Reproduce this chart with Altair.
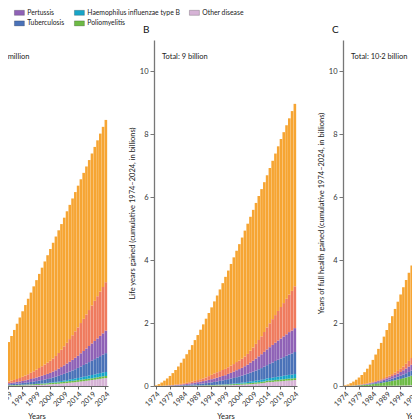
import altair as alt
import pandas as pd

FONT = "Lato"
years = list(range(1974, 2025))
tick_years = list(range(1974, 2025, 5))

stack_order = ["Other disease", "Poliomyelitis", "Haemophilus influenzae type B",
               "Tuberculosis", "Pertussis", "Tetanus", "Measles"]
legend_order = ["Measles", "Pertussis", "Haemophilus influenzae type B", "Other disease",
                "Tetanus", "Tuberculosis", "Poliomyelitis"]
legend_colors = ["#F6A533", "#8F62B6", "#17A5C8", "#D6B3D6",
                 "#EF7B5E", "#4A72B8", "#6DBA45"]

# ---------------- Panel A: deaths averted (millions) ----------------
A_total = [0.2, 0.5, 0.9, 1.4, 2.0, 2.8, 3.8, 5.0, 6.5, 8.3,
           10.4, 12.8, 15.6, 18.7, 22.0, 25.4, 28.9, 32.4, 36.0, 39.6,
           43.2, 46.8, 50.4, 54.0, 57.6, 61.2, 64.8, 68.4, 72.0, 75.6,
           79.2, 82.8, 86.4, 90.0, 93.6, 97.3, 101.0, 104.7, 108.4, 112.1,
           115.8, 119.5, 123.2, 126.9, 130.6, 134.4, 138.2, 142.0, 145.9, 149.8, 153.8]
A_tetanus = [0, .01, .02, .04, .06, .09, .13, .18, .24, .31,
             .39, .48, .58, .70, .84, 1.0, 1.2, 1.4, 1.7, 2.0,
             2.4, 2.8, 3.2, 3.6, 4.0, 4.5, 5.0, 5.5, 6.0, 6.5,
             7.0, 7.6, 8.3, 9.1, 10.0, 11.0, 12.0, 13.1, 14.2, 15.3,
             16.4, 17.5, 18.6, 19.7, 20.8, 22.0, 23.2, 24.4, 25.6, 26.8, 28.0]
A_pertussis = [0, .01, .02, .03, .05, .07, .09, .12, .16, .21,
               .27, .33, .40, .48, .56, .65, .75, .85, .96, 1.08,
               1.2, 1.35, 1.5, 1.7, 1.9, 2.1, 2.3, 2.5, 2.7, 2.9,
               3.1, 3.4, 3.7, 4.1, 4.5, 4.9, 5.3, 5.7, 6.1, 6.6,
               7.0, 7.6, 8.1, 8.7, 9.3, 9.9, 10.5, 11.1, 11.7, 12.3, 13.0]
A_tb = [0, .01, .02, .03, .05, .07, .09, .12, .16, .20,
        .25, .30, .36, .42, .49, .56, .64, .72, .81, .90,
        1.0, 1.1, 1.2, 1.35, 1.5, 1.65, 1.8, 1.95, 2.1, 2.3,
        2.5, 2.75, 3.0, 3.3, 3.6, 3.9, 4.25, 4.6, 5.0, 5.4,
        5.8, 6.3, 6.8, 7.3, 7.8, 8.3, 8.8, 9.3, 9.8, 10.3, 10.9]
A_hib = [0, 0, 0, 0, 0, 0, 0, 0, 0, 0,
         0, 0, 0, 0, 0, 0, 0, 0, 0, 0,
         0, .01, .02, .03, .05, .07, .10, .13, .17, .21,
         .26, .32, .39, .47, .56, .66, .77, .89, 1.0, 1.12,
         1.24, 1.36, 1.48, 1.6, 1.72, 1.84, 1.95, 2.05, 2.15, 2.23, 2.3]
A_polio = [0, .005, .01, .02, .03, .04, .05, .07, .09, .11,
           .13, .15, .18, .21, .24, .27, .30, .33, .36, .39,
           .42, .45, .48, .51, .54, .57, .60, .63, .66, .69,
           .72, .75, .78, .81, .84, .87, .90, .93, .96, .99,
           1.01, 1.03, 1.05, 1.07, 1.09, 1.11, 1.13, 1.15, 1.17, 1.19, 1.20]
A_other = [0, 0, .005, .01, .015, .02, .025, .03, .035, .04,
           .045, .05, .07, .09, .11, .14, .17, .20, .23, .26,
           .30, .35, .40, .45, .50, .56, .62, .70, .78, .88,
           1.0, 1.1, 1.2, 1.3, 1.45, 1.6, 1.75, 1.9, 2.05, 2.2,
           2.4, 2.6, 2.8, 3.0, 3.2, 3.4, 3.65, 3.9, 4.15, 4.4, 4.6]

# ---------------- Panel B: life years gained (billions) ----------------
B_total = [.02, .06, .11, .17, .24, .32, .41, .51, .62, .74,
           .87, 1.01, 1.15, 1.30, 1.46, 1.62, 1.79, 1.96, 2.14, 2.32,
           2.50, 2.69, 2.88, 3.07, 3.27, 3.47, 3.67, 3.88, 4.09, 4.30,
           4.51, 4.72, 4.94, 5.16, 5.38, 5.60, 5.82, 6.04, 6.26, 6.48,
           6.70, 6.93, 7.16, 7.39, 7.62, 7.85, 8.07, 8.29, 8.51, 8.74, 8.97]
B_tetanus = [0, .001, .002, .004, .006, .009, .012, .016, .020, .025,
             .030, .036, .043, .050, .058, .067, .077, .088, .10, .12,
             .14, .16, .17, .18, .19, .20, .21, .23, .24, .26,
             .27, .29, .31, .34, .38, .42, .47, .52, .57, .63,
             .70, .76, .82, .88, .94, 1.00, 1.06, 1.13, 1.19, 1.26, 1.33]
B_pertussis = [0, .001, .002, .003, .005, .007, .009, .012, .016, .020,
               .025, .031, .037, .044, .051, .058, .066, .074, .082, .091,
               .10, .11, .12, .13, .14, .15, .17, .18, .20, .22,
               .23, .25, .27, .29, .32, .35, .38, .41, .44, .47,
               .50, .53, .56, .58, .61, .63, .66, .68, .71, .73, .76]
B_tb = [0, .001, .002, .003, .004, .006, .008, .010, .013, .016,
        .020, .024, .029, .034, .040, .046, .053, .060, .068, .077,
        .087, .097, .108, .12, .13, .14, .155, .17, .18, .195,
        .21, .22, .24, .26, .28, .30, .32, .35, .37, .40,
        .42, .45, .48, .51, .54, .57, .59, .62, .65, .67, .70]
B_hib = [0, 0, 0, 0, 0, 0, 0, 0, 0, 0,
         0, 0, 0, 0, 0, 0, 0, 0, 0, 0,
         0, .001, .002, .003, .005, .007, .010, .013, .017, .021,
         .026, .031, .036, .041, .046, .051, .056, .061, .066, .070,
         .075, .080, .086, .092, .098, .104, .11, .115, .12, .125, .13]
B_polio = [0, .001, .001, .002, .002, .003, .003, .004, .005, .005,
           .006, .007, .008, .009, .010, .011, .012, .013, .015, .016,
           .018, .019, .021, .022, .024, .025, .027, .028, .030, .031,
           .033, .034, .036, .037, .039, .040, .042, .043, .045, .046,
           .048, .049, .050, .052, .053, .054, .056, .057, .058, .059, .060]
B_other = [0, 0, 0, 0, .001, .001, .001, .002, .002, .002,
           .003, .003, .004, .004, .005, .006, .007, .008, .009, .010,
           .011, .013, .015, .017, .019, .021, .024, .027, .030, .034,
           .038, .042, .047, .052, .058, .064, .071, .078, .088, .10,
           .12, .125, .13, .14, .145, .15, .16, .17, .175, .18, .19]

# ---------------- Panel C: years of full health gained (billions) ----------------
C_total = [.02, .05, .09, .14, .20, .27, .35, .44, .55, .68,
           .83, 1.00, 1.18, 1.37, 1.57, 1.78, 2.00, 2.22, 2.45, 2.68,
           2.91, 3.14, 3.37, 3.60, 3.83, 4.06, 4.29, 4.53, 4.77, 5.01,
           5.25, 5.49, 5.73, 5.97, 6.21, 6.46, 6.70, 6.95, 7.19, 7.44,
           7.68, 7.93, 8.17, 8.42, 8.67, 8.92, 9.17, 9.42, 9.67, 9.92, 10.17]
C_tetanus = [0, .001, .002, .003, .004, .006, .008, .01, .013, .016,
             .02, .024, .029, .034, .04, .047, .055, .064, .074, .086,
             .10, .12, .15, .18, .21, .25, .30, .34, .38, .42,
             .46, .50, .55, .60, .65, .70, .76, .82, .88, .94,
             1.0, 1.06, 1.12, 1.18, 1.24, 1.30, 1.36, 1.42, 1.48, 1.54, 1.60]
C_pertussis = [0, .001, .002, .004, .006, .008, .011, .014, .018, .022,
               .027, .032, .038, .045, .052, .06, .069, .079, .09, .10,
               .12, .135, .15, .17, .19, .22, .25, .27, .29, .31,
               .33, .35, .38, .41, .44, .47, .50, .53, .56, .59,
               .62, .65, .68, .71, .74, .77, .80, .83, .86, .89, .92]
C_tb = [0, .001, .002, .003, .005, .007, .009, .012, .015, .019,
        .023, .028, .033, .039, .046, .053, .061, .07, .08, .09,
        .10, .115, .13, .145, .16, .18, .20, .22, .24, .26,
        .28, .30, .33, .36, .39, .42, .45, .48, .51, .54,
        .57, .60, .63, .66, .69, .72, .75, .78, .81, .84, .87]
C_hib = [0, 0, 0, 0, 0, 0, 0, 0, 0, 0,
         0, 0, 0, 0, 0, 0, 0, 0, 0, 0,
         0, .001, .002, .004, .006, .008, .011, .015, .02, .025,
         .03, .036, .042, .048, .054, .06, .066, .072, .078, .084,
         .09, .096, .102, .108, .114, .12, .126, .132, .138, .144, .15]
C_polio = [0, .002, .005, .008, .012, .017, .023, .03, .038, .047,
           .057, .068, .08, .093, .107, .122, .138, .155, .173, .192,
           .212, .233, .255, .278, .30, .325, .35, .375, .40, .425,
           .45, .475, .50, .525, .55, .575, .60, .625, .65, .675,
           .70, .72, .74, .76, .78, .80, .82, .84, .86, .88, .90]
C_other = [0, 0, 0, 0, 0, 0, .001, .001, .002, .002,
           .003, .003, .004, .005, .006, .007, .008, .009, .010, .012,
           .014, .016, .018, .02, .023, .026, .03, .034, .038, .043,
           .048, .054, .06, .067, .074, .082, .09, .10, .11, .12,
           .13, .145, .16, .175, .19, .205, .22, .235, .25, .265, .28]


def build(total, other, polio, hib, tb, pert, tet):
    parts = [other, polio, hib, tb, pert, tet]
    rows = []
    for i, yr in enumerate(years):
        acc = 0.0
        for k, name in enumerate(stack_order[:-1]):
            v = parts[k][i]
            acc += v
            rows.append({"year": yr, "disease": name, "value": v, "order": k})
        rows.append({"year": yr, "disease": "Measles",
                     "value": round(total[i] - acc, 4), "order": 6})
    return pd.DataFrame(rows)


dfA = build(A_total, A_other, A_polio, A_hib, A_tb, A_pertussis, A_tetanus)
dfB = build(B_total, B_other, B_polio, B_hib, B_tb, B_pertussis, B_tetanus)
dfC = build(C_total, C_other, C_polio, C_hib, C_tb, C_pertussis, C_tetanus)

legend = alt.Legend(orient="none", legendX=4, legendY=-31, direction="horizontal",
                    columns=4, title=None, symbolType="M-2,-1H2V1H-2Z",
                    symbolSize=25, symbolStrokeWidth=0.6,
                    symbolStrokeColor="rgba(0,0,0,0.35)", symbolOpacity=1,
                    labelFontSize=6.8, labelFont=FONT, labelColor="#222",
                    columnPadding=8, rowPadding=2, labelOffset=4.5)


def panel(df, letter, ytitle, ydomain, yvalues, total_text):
    bars = alt.Chart(df).mark_bar().encode(
        x=alt.X("year:O", title="Years",
                scale=alt.Scale(paddingInner=0.06, paddingOuter=0.3),
                axis=alt.Axis(values=tick_years, labelAngle=-45, labelFontSize=7.5,
                              labelColor="#333", tickColor="#666", domainColor="#666",
                              tickSize=3, labelPadding=1, titleFontSize=7.5,
                              titleFontWeight="normal", titleColor="#222",
                              titlePadding=5, grid=False)),
        y=alt.Y("value:Q", stack="zero", title=ytitle,
                scale=alt.Scale(domain=ydomain, nice=False),
                axis=alt.Axis(values=yvalues, labelFontSize=7.5, labelColor="#333",
                              tickSize=4, tickColor="#777", domainColor="#777",
                              domainWidth=1.3, titleFontSize=7.5,
                              titleFontWeight="normal", titleColor="#222",
                              titlePadding=3, grid=False)),
        color=alt.Color("disease:N",
                        scale=alt.Scale(domain=legend_order, range=legend_colors),
                        legend=legend),
        order=alt.Order("order:Q", sort="ascending"),
    )
    txt = alt.Chart(pd.DataFrame({"t": [total_text]})).mark_text(
        align="left", baseline="middle", fontSize=7.5, font=FONT, color="#222"
    ).encode(text="t:N", x=alt.value(8), y=alt.value(17))
    return alt.layer(bars, txt).properties(
        width=143, height=346,
        title=alt.TitleParams(letter, anchor="start", frame="group", dx=-11,
                              offset=5, fontSize=10, fontWeight="normal",
                              font=FONT, color="#111"))


pA = panel(dfA, "A", "Deaths averted (cumulative 1974–2024, in millions)",
           [0, 200], [0, 50, 100, 150, 200], "Total: 154 million")
pB = panel(dfB, "B", "Life years gained (cumulative 1974–2024, in billions)",
           [0, 11], [0, 2, 4, 6, 8, 10], "Total: 9 billion")
pC = panel(dfC, "C", "Years of full health gained (cumulative 1974–2024, in billions)",
           [0, 11], [0, 2, 4, 6, 8, 10], "Total: 10·2 billion")

chart = alt.hconcat(pA, pB, pC, spacing=46, bounds="flush").properties(
    autosize=alt.AutoSizeParams(type="none"),
    padding={"left": -43, "top": 32, "right": 447, "bottom": 368},
).configure(font=FONT).configure_view(stroke=None)

chart.save("out.html", embed_options={"renderer": "svg", "actions": False})
